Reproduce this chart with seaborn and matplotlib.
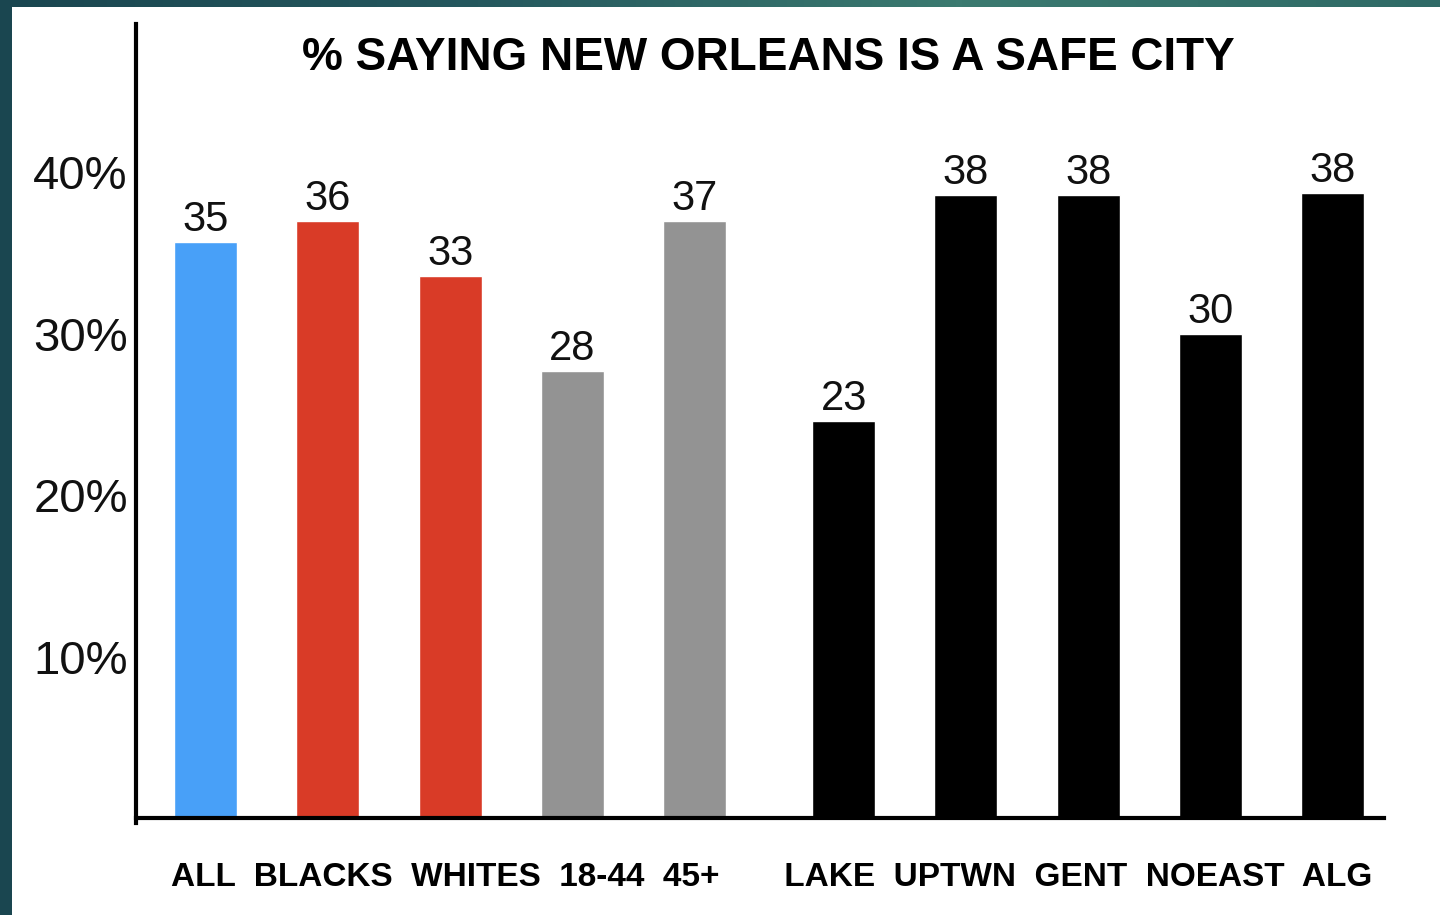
import numpy as np
import pandas as pd
import matplotlib
matplotlib.use("Agg")
import matplotlib.pyplot as plt
from matplotlib.patches import Rectangle
from matplotlib.colors import LinearSegmentedColormap
import seaborn as sns

# Data
categories = ["ALL", "BLACKS", "WHITES", "18-44", "45+",
              "LAKE", "UPTWN", "GENT", "NOEAST", "ALG"]
groups = ["all", "race", "race", "age", "age",
          "area", "area", "area", "area", "area"]
heights = [35.7, 37.0, 33.6, 27.7, 37.0, 24.6, 38.6, 38.6, 30.0, 38.7]
value_labels = ["35", "36", "33", "28", "37", "23", "38", "38", "30", "38"]
y_ticks = [10, 20, 30, 40]
y_tick_labels = ["10%", "20%", "30%", "40%"]
title = "% SAYING NEW ORLEANS IS A SAFE CITY"

group_colors = {"all": "#48a0f8", "race": "#d93b27", "age": "#939393", "area": "#000000"}

sns.set_style("white")
plt.rcParams["font.family"] = ["Liberation Sans", "DejaVu Sans"]

# second block of bars (neighbourhoods) sits a bit further right
idx = np.arange(len(categories))
split = idx >= 5
xpos = idx + 0.22 * split

df = pd.DataFrame({"cat": categories, "group": groups, "value": heights, "x": xpos})

fig = plt.figure(figsize=(14.4, 9.15), dpi=100)

# slide-style background: teal frame with white panel
bg = fig.add_axes([0, 0, 1, 1], zorder=-10)
teal = LinearSegmentedColormap.from_list("teal", ["#1a4650", "#25585e", "#3b7a70", "#2f6a66"])
bg.imshow(np.linspace(0, 1, 256)[None, :], cmap=teal, aspect="auto", extent=[0, 1, 0, 1])
bg.add_patch(Rectangle((12 / 1440, 0), 1, 1 - 7 / 915, color="white", lw=0))
bg.set_xlim(0, 1)
bg.set_ylim(0, 1)
bg.axis("off")

ax = fig.add_axes([136 / 1440, 1 - 818 / 915, (1384 - 136) / 1440, (818 - 24) / 915])
ax.set_facecolor("none")

sns.barplot(data=df, x="x", y="value", hue="group", palette=group_colors,
            native_scale=True, width=0.515, legend=False, ax=ax, saturation=1)

for x, h, lab in zip(xpos, heights, value_labels):
    ax.annotate(lab, (x, h), xytext=(0, 8), textcoords="offset points",
                ha="center", va="baseline", fontsize=30, color="#111111")

ax.set_xlim(-0.57, 9.64)
ax.set_ylim(0, 49.2)
ax.set_yticks(y_ticks, labels=y_tick_labels)
ax.set_xticks([])
ax.tick_params(axis="y", length=0, pad=6, labelsize=34, labelcolor="#111111")
ax.set_xlabel("")
ax.set_ylabel("")

for s in ["top", "right"]:
    ax.spines[s].set_visible(False)
for s in ["left", "bottom"]:
    ax.spines[s].set_linewidth(3)
    ax.spines[s].set_color("black")
ax.spines["left"].set_bounds(-0.3, 49.2)

# category names are set as one spaced row under the axis, like the slide
row = "  ".join(np.array(categories)[~split]) + "       " + "  ".join(np.array(categories)[split])
fig.text(772 / 1440, 1 - 877 / 915, row, ha="center", va="center",
         fontsize=24, fontweight="bold", color="black")

fig.text(768 / 1440, 1 - 70 / 915, title, ha="center", va="baseline",
         fontsize=33, fontweight="bold", color="black")

fig.savefig("out.png", dpi=100)
